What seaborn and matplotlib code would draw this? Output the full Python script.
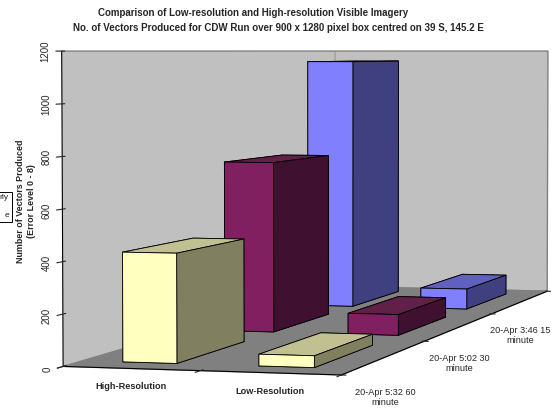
import numpy as np
import matplotlib
matplotlib.use("Agg")
import matplotlib.pyplot as plt
import seaborn as sns

# values
resolucoes = ["High-Resolution", "Low-Resolution"]
execucoes = ["20-Apr 5:32 60\nminute", "20-Apr 5:02 30\nminute", "20-Apr 3:46 15\nminute"]
vetores_high = [425, 725, 1150]
vetores_low = [45, 88, 93]
z_ticks = [0, 200, 400, 600, 800, 1000, 1200]

# excel-ish colours: front, side, top for each run
cor_frente = ["#FFFFC0", "#802060", "#8080FF"]
cor_lado = ["#808060", "#401030", "#404080"]
cor_topo = ["#C0C090", "#602048", "#6060C0"]

sns.set_style("white")
plt.rcParams["font.family"] = ["Liberation Sans", "DejaVu Sans"]

fig = plt.figure(figsize=(5.55, 4.09), dpi=100)
ax = fig.add_axes([0.1124, -0.1325, 0.9667, 1.3117], projection="3d")

xs, ys, zs, cores = [], [], [], []
for i, valores in enumerate([vetores_high, vetores_low]):
    for j, v in enumerate(valores):
        xs.append(i + 0.3)
        ys.append(j + 0.165)
        zs.append(v)
        # face order: -z, +z, -y, +y, -x, +x
        cores += [cor_lado[j], cor_topo[j], cor_frente[j], cor_lado[j], cor_frente[j], cor_lado[j]]

ax.bar3d(xs, ys, np.zeros(len(zs)), 0.4, 0.67, zs, color=cores, shade=False,
         edgecolor="black", linewidth=0.6)

ax.set_xlim(0, 2)
ax.set_ylim(0, 3)
ax.set_zlim(0, 1200)
ax.set_box_aspect((0.916, 3.245, 1.0), zoom=1.737)
ax.set_proj_type("persp", focal_length=1.0)
ax.view_init(elev=2.7, azim=-74.6)

ax.grid(False)
ax.set_facecolor("white")
ax.xaxis.set_pane_color("#C0C0C0")
ax.yaxis.set_pane_color("#C0C0C0")
ax.zaxis.set_pane_color("#808080")
for eixo in [ax.xaxis, ax.yaxis, ax.zaxis]:
    eixo.pane.set_edgecolor("#808080")
    eixo.line.set_color("black")
    eixo.label.set_visible(False)
    eixo.get_offset_text().set_visible(False)

ax.zaxis.set_ticks_position("lower")
ax.zaxis.set_label_position("lower")

ax.set_xticks([0, 1, 2])
ax.set_xticklabels([])
ax.set_yticks([0, 1, 2, 3])
ax.set_yticklabels([])
ax.set_zticks(z_ticks)
ax.set_zticklabels([str(t) for t in z_ticks], rotation=90, fontsize=7, va="center", ha="center")
ax.tick_params(axis="z", pad=-3)

for i, r in enumerate(resolucoes):
    ax.text(i + 0.5, 0, -70, r, fontsize=6.6, fontweight="bold", ha="center", va="center")
for j, e in enumerate(execucoes):
    ax.text(2, j + 0.5, -160, e, fontsize=6.6, ha="center", va="center")

fig.text(26 / 555, 1 - 201 / 409, "Number of Vectors Produced\n(Error Level 0 - 8)",
         rotation=90, ha="center", va="center", fontsize=6.4, fontweight="bold")

fig.text(253 / 555, 1 - 13 / 409, "Comparison of Low-resolution and High-resolution Visible Imagery",
         ha="center", va="center", fontsize=7, fontweight="bold")
fig.text(278 / 555, 1 - 28 / 409,
         "No. of Vectors Produced for CDW Run over 900 x 1280 pixel box centred on 39 S, 145.2 E",
         ha="center", va="center", fontsize=7, fontweight="bold")

# clipped legend box at the left edge of the original
fig.text(9 / 555, 1 - 207 / 409, "rly\n\ne", ha="right", va="center", fontsize=6, linespacing=1.4,
         multialignment="right",
         bbox=dict(boxstyle="square,pad=0.3", facecolor="white", edgecolor="black", linewidth=0.7))

fig.savefig("out.png", dpi=100)
